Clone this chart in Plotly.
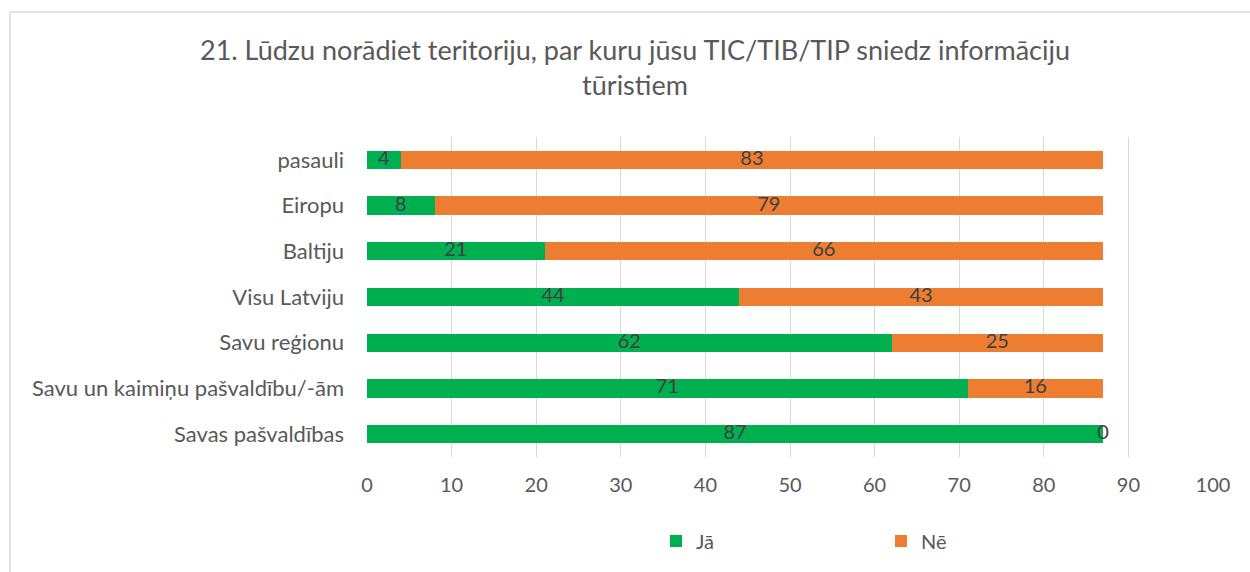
import plotly.graph_objects as go

categories = ["pasauli", "Eiropu", "Baltiju", "Visu Latviju", "Savu reģionu",
              "Savu un kaimiņu pašvaldību/-ām", "Savas pašvaldības"]
ja = [4, 8, 21, 44, 62, 71, 87]
ne = [83, 79, 66, 43, 25, 16, 0]
x_ticks = list(range(0, 101, 10))

GREEN = "#00B050"
ORANGE = "#ED7D31"
FONT = "Lato"

W, H = 1250, 572
L, R, T, B = 367, 37, 137, 115
pw, ph = W - L - R, H - T - B

fig = go.Figure()
fig.add_trace(go.Bar(y=categories, x=ja, orientation="h", name="Jā",
                     marker=dict(color=GREEN, line=dict(width=0))))
fig.add_trace(go.Bar(y=categories, x=ne, orientation="h", name="Nē",
                     marker=dict(color=ORANGE, line=dict(width=0))))

# data labels
fig.add_trace(go.Scatter(y=categories, x=[v / 2 for v in ja], mode="text",
                         text=[str(v) for v in ja], showlegend=False, hoverinfo="skip",
                         textfont=dict(family=FONT, size=20, color="#404040")))
fig.add_trace(go.Scatter(y=categories, x=[a + b / 2 for a, b in zip(ja, ne)], mode="text",
                         text=[str(v) for v in ne], showlegend=False, hoverinfo="skip",
                         textfont=dict(family=FONT, size=20, color="#404040")))

fig.update_layout(
    width=W, height=H,
    barmode="stack", bargap=0.6,
    margin=dict(l=L, r=R, t=T, b=B),
    paper_bgcolor="white", plot_bgcolor="white",
    font=dict(family=FONT, size=20, color="#595959"),
    title=dict(text="21. Lūdzu norādiet teritoriju, par kuru jūsu TIC/TIB/TIP sniedz informāciju<br>tūristiem",
               x=0.508, xref="container", xanchor="center",
               y=1 - 60 / H, yref="container", yanchor="middle",
               font=dict(family=FONT, size=27, color="#595959")),
    xaxis=dict(range=[0, 100], tickvals=x_ticks, showgrid=True, gridcolor="#D9D9D9",
               gridwidth=1, zeroline=False, showline=False, ticks="",
               tickfont=dict(family=FONT, size=20, color="#595959"), ticklabelstandoff=14),
    yaxis=dict(autorange="reversed", showgrid=False, zeroline=False, showline=False, ticks="",
               tickfont=dict(family=FONT, size=22, color="#595959"), ticklabelstandoff=22),
    legend=dict(orientation="h", x=(656 - L) / pw, xanchor="left",
                y=(H - B - 541) / ph, yanchor="middle",
                entrywidth=180, entrywidthmode="pixels",
                font=dict(family=FONT, size=20, color="#595959"),
                traceorder="normal"),
    shapes=[dict(type="rect", xref="paper", yref="paper",
                 x0=(10 - L) / pw, x1=(1300 - L) / pw,
                 y0=-1.0, y1=(H - B - 12) / ph,
                 line=dict(color="#D9D9D9", width=1.5), fillcolor="rgba(0,0,0,0)",
                 layer="below")],
)

fig.write_html("out.html", config={"displayModeBar": False},
               post_script="document.body.style.margin='0';")
